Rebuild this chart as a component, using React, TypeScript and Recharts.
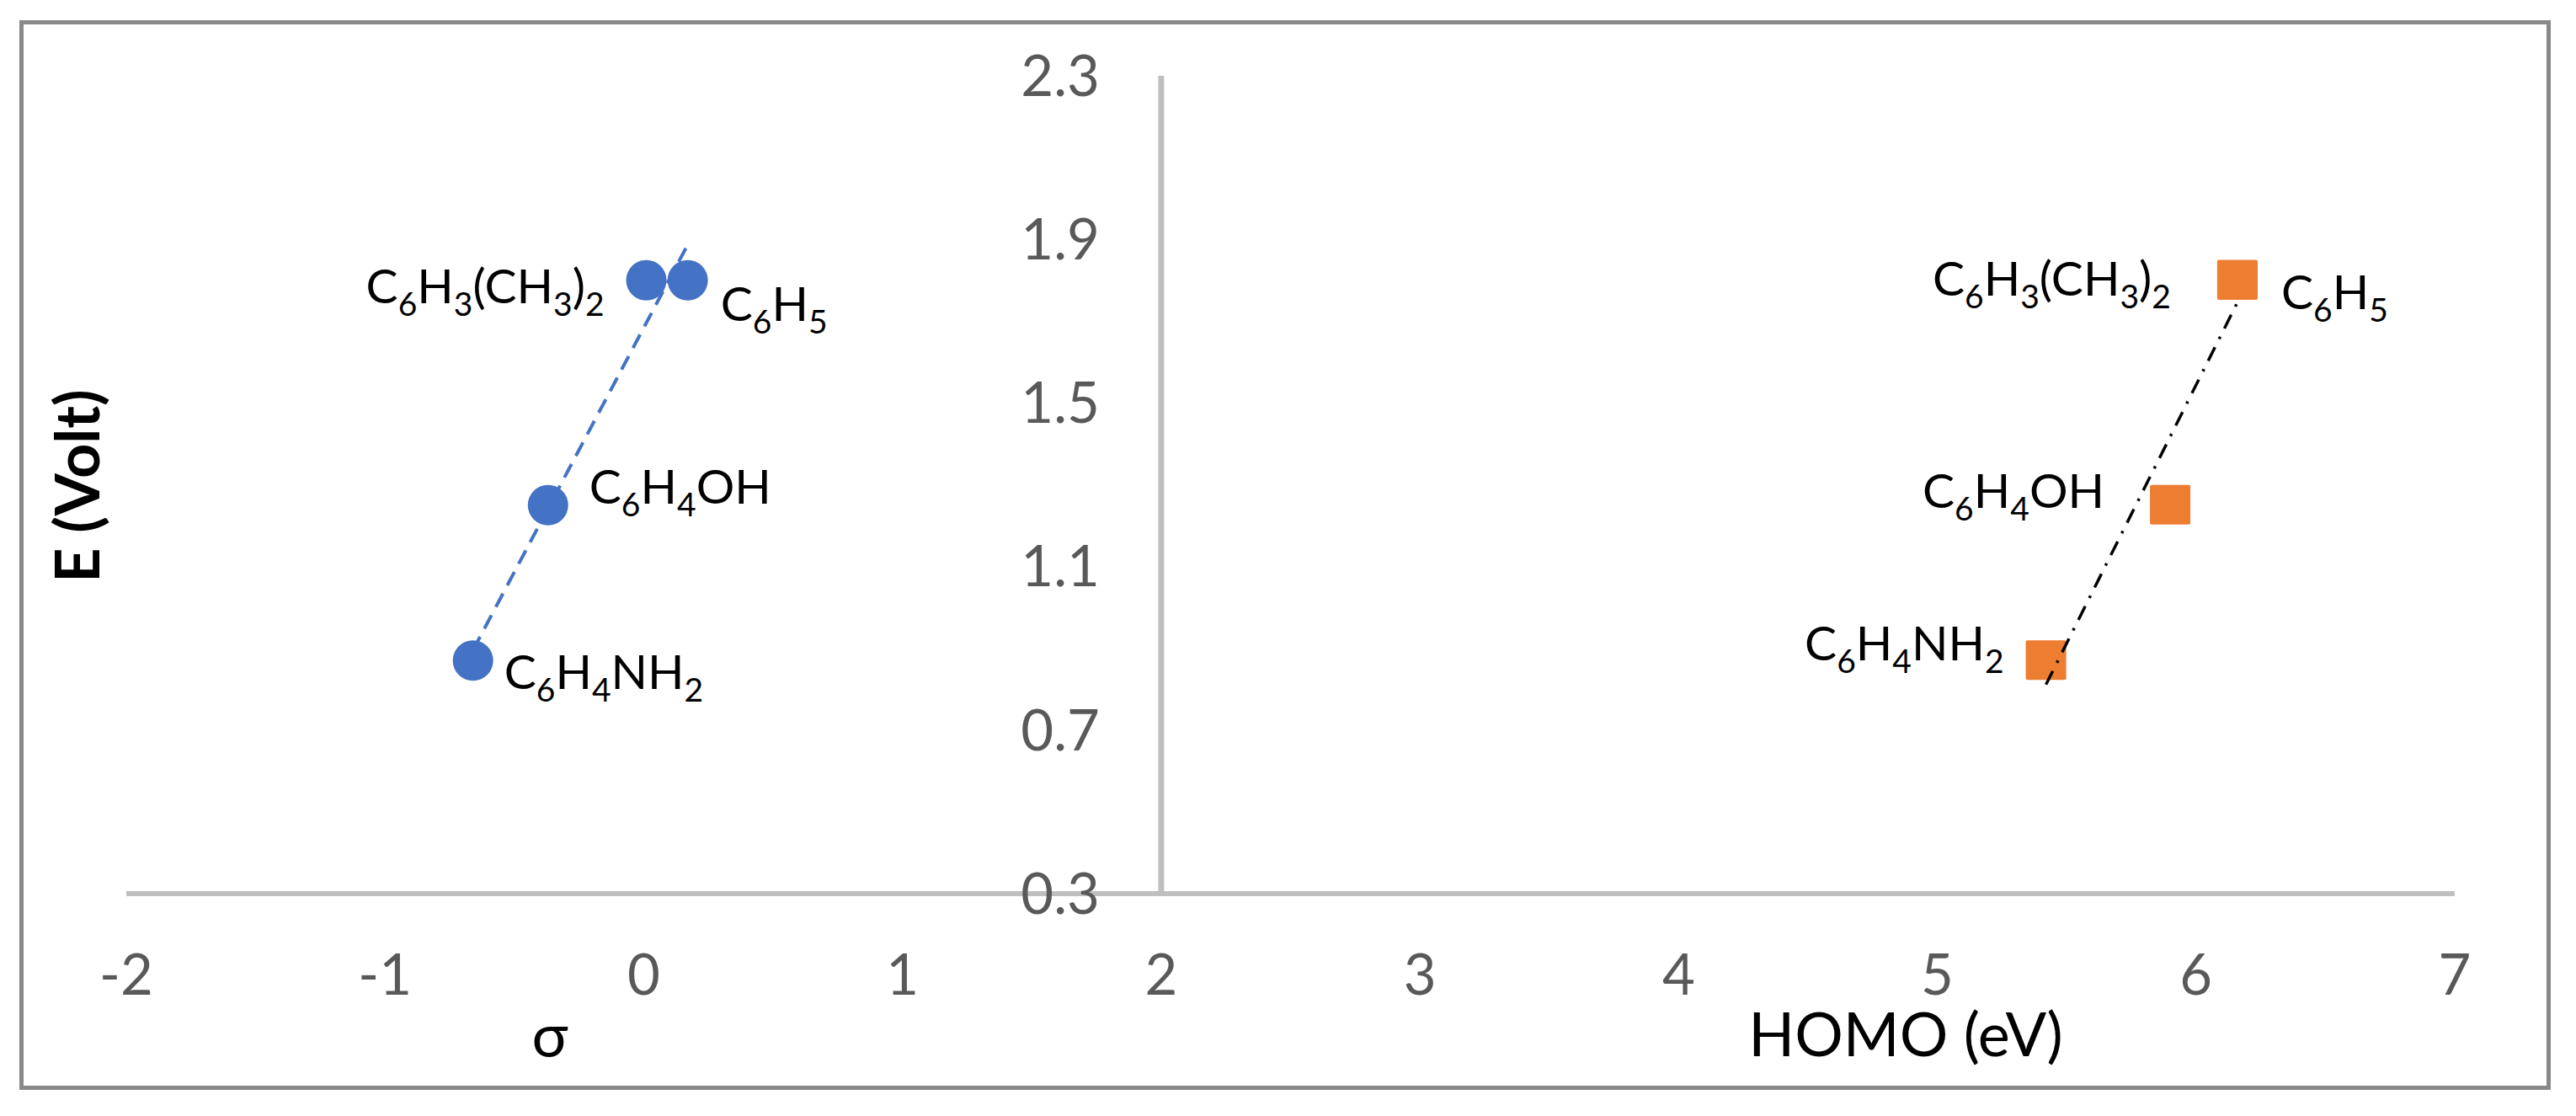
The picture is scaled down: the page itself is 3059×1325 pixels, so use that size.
import React from 'react';
import { ScatterChart, Scatter, XAxis, YAxis, ReferenceLine, ReferenceDot } from 'recharts';

const substituents = ['C6H4NH2', 'C6H4OH', 'C6H3(CH3)2', 'C6H5'];
const sigmaValues = [-0.66, -0.37, 0.01, 0.17];
const homoValues = [5.42, 5.9, 6.16, 6.16];
const potentialValues = [0.87, 1.25, 1.8, 1.8];
const xTicks = [-2, -1, 0, 1, 2, 3, 4, 5, 6, 7];
const yTicks = [0.3, 0.7, 1.1, 1.5, 1.9, 2.3];

const sigmaData = substituents.map((name, i) => ({ x: sigmaValues[i], y: potentialValues[i], name }));
const homoData = substituents.map((name, i) => ({ x: homoValues[i], y: potentialValues[i], name }));

const FONT = 'Lato, "Open Sans", sans-serif';
const BLUE = '#4472C4';
const ORANGE = '#ED7D31';

type Place = { dx: number; dy: number; anchor: 'start' | 'end' };

// label placement around each marker (px from marker centre to text baseline)
const sigmaLabelPos: Record<string, Place> = {
  C6H4NH2: { dx: 37, dy: 34, anchor: 'start' },
  C6H4OH: { dx: 49, dy: -2, anchor: 'start' },
  'C6H3(CH3)2': { dx: -50, dy: 27, anchor: 'end' },
  C6H5: { dx: 39, dy: 48, anchor: 'start' },
};
const homoLabelPos: Record<string, Place> = {
  C6H4NH2: { dx: -50, dy: 0, anchor: 'end' },
  C6H4OH: { dx: -78, dy: 3, anchor: 'end' },
  'C6H3(CH3)2': { dx: -79, dy: 18, anchor: 'end' },
  C6H5: { dx: 52, dy: 34, anchor: 'start' },
};

// chemical formula with the digits dropped to subscripts
const Formula = ({ x, y, text, anchor }: { x: number; y: number; text: string; anchor: 'start' | 'end' }) => {
  const parts = text.split(/(\d+)/).filter(Boolean);
  return (
    <text x={x} y={y} textAnchor={anchor} fontFamily={FONT} fontSize={57} fill="#000">
      {parts.map((p, i) => {
        const isSub = /^\d+$/.test(p);
        if (isSub) {
          return (
            <tspan key={i} fontSize={39} dy={15}>
              {p}
            </tspan>
          );
        }
        return (
          <tspan key={i} dy={i > 0 ? -15 : 0}>
            {p}
          </tspan>
        );
      })}
    </text>
  );
};

const circleShape = (props: any) => {
  const { cx, cy, payload } = props;
  const pos = sigmaLabelPos[payload.name];
  return (
    <g>
      <circle cx={cx} cy={cy} r={24} fill={BLUE} />
      <Formula x={cx + pos.dx} y={cy + pos.dy} text={payload.name} anchor={pos.anchor} />
    </g>
  );
};

const squareShape = (props: any) => {
  const { cx, cy, payload } = props;
  const pos = homoLabelPos[payload.name];
  return (
    <g>
      <rect x={cx - 24} y={cy - 24} width={48} height={47} rx={2} fill={ORANGE} />
      <Formula x={cx + pos.dx} y={cy + pos.dy} text={payload.name} anchor={pos.anchor} />
    </g>
  );
};

const noShape = () => <g />;

export default function App() {
  return (
    <div style={{ position: 'absolute', left: 0, top: 0, width: 3059, height: 1325, background: '#fff' }}>
      <ScatterChart width={3059} height={1325} margin={{ top: 90, right: 144, bottom: 144, left: 150 }}>
        <XAxis
          type="number"
          dataKey="x"
          domain={[-2, 7]}
          ticks={xTicks}
          interval={0}
          allowDataOverflow
          axisLine={{ stroke: '#BFBFBF', strokeWidth: 6 }}
          tickLine={false}
          tickSize={0}
          tickMargin={72}
          tick={{ fill: '#595959', fontSize: 67, fontFamily: FONT }}
          height={120}
        />
        <YAxis type="number" dataKey="y" domain={[0.3, 2.3]} ticks={yTicks} allowDataOverflow hide width={0} />
        <ReferenceLine x={2} stroke="#BFBFBF" strokeWidth={7} />
        {yTicks.map((t) => (
          <ReferenceDot
            key={t}
            x={2}
            y={t}
            r={0}
            fill="none"
            stroke="none"
            label={{ value: t.toFixed(1), position: 'left', offset: 73, fill: '#595959', fontSize: 67, fontFamily: FONT }}
          />
        ))}
        <Scatter name="sigma" data={sigmaData} shape={circleShape} isAnimationActive={false} />
        <Scatter name="homo" data={homoData} shape={squareShape} isAnimationActive={false} />
        {/* Excel-style linear trendlines */}
        <Scatter
          data={sigmaData}
          shape={noShape}
          line={{ stroke: BLUE, strokeWidth: 4, strokeDasharray: '18 11' }}
          lineType="fitting"
          isAnimationActive={false}
        />
        <Scatter
          data={homoData}
          shape={noShape}
          line={{ stroke: '#000', strokeWidth: 3.5, strokeDasharray: '18 11 3 11' }}
          lineType="fitting"
          isAnimationActive={false}
        />
      </ScatterChart>
      <svg
        width={3059}
        height={1325}
        style={{ position: 'absolute', left: 0, top: 0, pointerEvents: 'none' }}
      >
        <rect x={25.5} y={26.5} width={3001} height={1265} fill="none" stroke="#898989" strokeWidth={5} />
        <text
          x={118}
          y={577}
          transform="rotate(-90 118 577)"
          textAnchor="middle"
          fontFamily={FONT}
          fontWeight={700}
          fontSize={72}
          fill="#000"
        >
          E (Volt)
        </text>
        <text x={653} y={1255} textAnchor="middle" fontFamily={FONT} fontSize={72} fill="#000">
          σ
        </text>
        <text x={2263} y={1254} textAnchor="middle" fontFamily={FONT} fontSize={72} fill="#000">
          HOMO (eV)
        </text>
      </svg>
    </div>
  );
}
